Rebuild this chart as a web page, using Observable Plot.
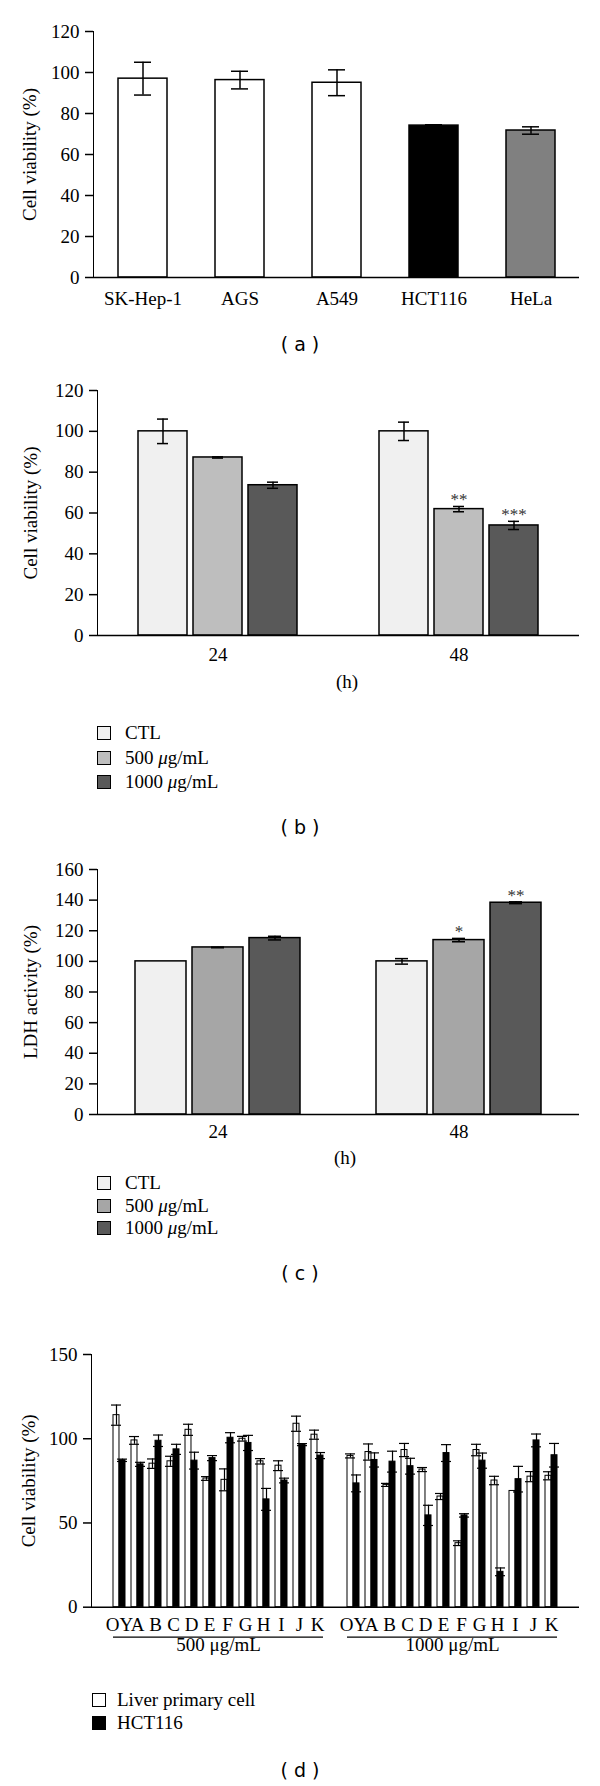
<!DOCTYPE html>
<html><head><meta charset="utf-8">
<script src="https://cdn.jsdelivr.net/npm/d3@7"></script>
<script src="https://cdn.jsdelivr.net/npm/@observablehq/plot@0.6"></script>
<style>
body{margin:0;background:#fff;}
#page{position:relative;width:600px;height:1786px;overflow:hidden;background:#fff;font-family:"Liberation Serif","Times New Roman",serif;}
.cap{position:absolute;left:0;width:600px;text-align:center;font-family:"DejaVu Sans",sans-serif;font-size:19px;line-height:20px;height:20px;white-space:pre;}
.hl{position:absolute;font-size:19px;line-height:20px;height:20px;transform:translateX(-50%);}
.leg{position:absolute;font-size:19px;line-height:20px;height:20px;display:flex;align-items:center;white-space:nowrap;}
.sw{display:inline-block;width:12px;height:12px;border:1px solid #000;box-sizing:content-box;}
svg g[aria-label="y-axis tick"]{stroke-width:1.5;}
</style></head><body><div id="page"></div>
<script>
// ---------- data: panel (a) ----------
const cellLinesA = ["SK-Hep-1", "AGS", "A549", "HCT116", "HeLa"];
const viabilityA = [97, 96.3, 95, 74.1, 71.7];
const errorA = [8, 4.3, 6.3, 0.4, 1.8];

// ---------- data: panel (b) ----------
const timesB = ["24", "48"];
const dosesB = ["CTL", "500 μg/mL", "1000 μg/mL"];
const viabilityB = [[100, 87.2, 73.6], [100, 61.9, 53.9]];
const errorB = [[6, 0.3, 1.5], [4.5, 1.3, 2]];
const signifB = [["", "", ""], ["", "**", "***"]];

// ---------- data: panel (c) ----------
const timesC = ["24", "48"];
const dosesC = ["CTL", "500 μg/mL", "1000 μg/mL"];
const ldhC = [[100, 109.1, 115.2], [100, 113.9, 138.3]];
const errorC = [[0, 0.2, 1.2], [1.8, 1.1, 0.6]];
const signifC = [["", "", ""], ["", "*", "**"]];

// ---------- data: panel (d) ----------
const extractsD = ["OY", "A", "B", "C", "D", "E", "F", "G", "H", "I", "J", "K"];
const dosesD = ["500 μg/mL", "1000 μg/mL"];
const cellTypesD = ["Liver primary cell", "HCT116"];
const liverD = [
  [114, 99, 85.2, 86.6, 105.3, 76.4, 75.6, 100, 86.6, 84, 108.9, 102.4],
  [89.8, 92.1, 72.6, 93.3, 81.7, 65.7, 38, 93.3, 75.2, 69, 77.5, 78]
];
const liverErrD = [
  [6, 2.3, 2.8, 3, 3.3, 1.1, 6.5, 1.4, 1.6, 2.9, 4.5, 2.7],
  [1.2, 4.8, 0.9, 3.9, 1.2, 1.8, 1.4, 3.4, 2.5, 0, 3, 2.4]
];
const hctD = [
  [87.2, 84.8, 98.8, 93.7, 87, 88.5, 100.6, 97.5, 64, 75.2, 96.5, 90],
  [73.5, 87.4, 86.4, 83.7, 54.5, 91.5, 54.5, 87, 21, 76, 99, 90.2]
];
const hctErrD = [
  [0.7, 1.2, 3.4, 3, 5, 1.5, 3, 4.5, 6.5, 1.4, 0.6, 1.8],
  [5, 4.2, 6.2, 4.7, 6, 5, 1, 4.5, 2.3, 7.6, 3.8, 7]
];

// ---------- helpers ----------
const page = document.getElementById("page");
function place(el, top, left) {
  el.style.position = "absolute";
  el.style.top = top + "px";
  if (left !== undefined) el.style.left = left + "px";
  page.appendChild(el);
  return el;
}
function div(cls, html) { const d = document.createElement("div"); d.className = cls; d.innerHTML = html; return d; }
const serif = '"Liberation Serif", "Times New Roman", serif';
const baseStyle = {fontFamily: serif, fontSize: "19px", color: "black", background: "white", overflow: "visible"};
const italicMu = s => s.replace("μ", "<i>μ</i>");
function legend(labels, colors, centers, left, textLeft) {
  labels.forEach((lab, i) => {
    const row = div("leg", `<span class="sw" style="background:${colors[i]}"></span><span style="margin-left:${textLeft - left - 14}px">${italicMu(lab)}</span>`);
    place(row, centers[i] - 10, left);
  });
}
function yAxis(label, ticks, domain, offset) {
  return {domain, ticks, tickSize: 8, tickPadding: 6, label, labelAnchor: "center", labelOffset: offset, labelArrow: "none", line: true};
}
function errorMarks(data, opts, capInset, sw) {
  const d = data.filter(r => r.e > 0);
  return [
    Plot.ruleX(d, {...opts, y1: r => r.v - r.e, y2: r => r.v + r.e, strokeWidth: sw}),
    Plot.tickY(d, {...opts, y: r => r.v + r.e, insetLeft: capInset, insetRight: capInset, strokeWidth: sw}),
    Plot.tickY(d, {...opts, y: r => r.v - r.e, insetLeft: capInset, insetRight: capInset, strokeWidth: sw})
  ];
}

// ---------- panel (a) ----------
const dataA = cellLinesA.map((cell, i) => ({cell, v: viabilityA[i], e: errorA[i]}));
const chartA = Plot.plot({
  width: 600, height: 320, marginTop: 31, marginBottom: 43, marginLeft: 93, marginRight: 21,
  style: baseStyle,
  x: {domain: cellLinesA, paddingInner: 0.5, paddingOuter: 0.25, label: null, tickSize: 0, tickPadding: 14},
  y: yAxis("Cell viability (%)", d3.range(0, 121, 20), [0, 120], 71),
  color: {domain: cellLinesA, range: ["#ffffff", "#ffffff", "#ffffff", "#000000", "#808080"]},
  marks: [
    Plot.barY(dataA, {x: "cell", y: "v", fill: "cell", stroke: "black", strokeWidth: 1.5}),
    ...errorMarks(dataA, {x: "cell"}, 16, 1.5),
    Plot.ruleY([0], {strokeWidth: 1.5})
  ]
});
place(chartA, 0, 0);
place(div("cap", "( a )"), 334);

// ---------- panel (b) / (c) builder ----------
function groupedPanel(times, doses, vals, errs, sigs, colors, yLabel, yDomain, yTicks, dims) {
  const data = times.flatMap((t, i) => doses.map((d, j) => ({time: t, dose: d, v: vals[i][j], e: errs[i][j], sig: sigs[i][j]})));
  return Plot.plot({
    width: 600, height: dims.height, marginTop: dims.mt, marginBottom: dims.mb, marginLeft: dims.ml, marginRight: 21,
    style: baseStyle,
    fx: {domain: times, padding: 0, label: null, tickSize: 0, tickPadding: dims.tp},
    x: {domain: doses, paddingInner: dims.pi, paddingOuter: dims.po, axis: null},
    y: yAxis(yLabel, yTicks, yDomain, dims.ml - 22),
    color: {domain: doses, range: colors},
    marks: [
      Plot.barY(data, {fx: "time", x: "dose", y: "v", fill: "dose", stroke: "black", strokeWidth: 1.5}),
      ...errorMarks(data, {fx: "time", x: "dose"}, dims.cap, 1.5),
      Plot.text(data.filter(r => r.sig), {fx: "time", x: "dose", y: r => r.v + r.e, text: "sig", lineAnchor: "bottom", dy: -1, fontSize: 17, fill: "#333"}),
      Plot.ruleY([0], {strokeWidth: 1.5})
    ]
  });
}
const colorsBC = ["#f0f0f0", "#bebebe", "#595959"];

const chartB = groupedPanel(timesB, dosesB, viabilityB, errorB, signifB, colorsBC,
  "Cell viability (%)", [0, 120], d3.range(0, 121, 20),
  {height: 310, mt: 30, mb: 35, ml: 96, tp: 12, pi: 0.118, po: 0.738, cap: 19});
place(chartB, 360, 0);
place(div("hl", "(h)"), 672, 347);
legend(dosesB, colorsBC, [733, 758, 782], 97, 125);
place(div("cap", "( b )"), 817);

const colorsC = ["#f0f0f0", "#a6a6a6", "#595959"];
const chartC = groupedPanel(timesC, dosesC, ldhC, errorC, signifC, colorsC,
  "LDH activity (%)", [0, 160], d3.range(0, 161, 20),
  {height: 309, mt: 29, mb: 35, ml: 96, tp: 10, pi: 0.114, po: 0.66, cap: 19});
place(chartC, 840, 0);
place(div("hl", "(h)"), 1148, 345);
legend(dosesC, colorsC, [1183, 1206, 1228], 97, 125);
place(div("cap", "( c )"), 1263);

// ---------- panel (d) ----------
const keyD = (dose, cat) => dose + "|" + cat;
const spacerD = "|";
const domainD = [...extractsD.map(c => keyD(dosesD[0], c)), spacerD, ...extractsD.map(c => keyD(dosesD[1], c))];
const dataD = dosesD.flatMap((dose, i) => extractsD.map((cat, j) => ({
  key: keyD(dose, cat), liver: liverD[i][j], le: liverErrD[i][j], hct: hctD[i][j], he: hctErrD[i][j]
})));
const mlD = 91, mrD = 21, piD = 1 / 3, poD = 1.18;
const bandD = d3.scaleBand(domainD, [mlD, 600 - mrD]).paddingInner(piD).paddingOuter(poD);
const bwD = bandD.bandwidth(), stepD = bandD.step();
const groupsD = dosesD.map(d => ({
  label: d, first: keyD(d, extractsD[0]), last: keyD(d, extractsD[extractsD.length - 1]),
  mid: keyD(d, extractsD[extractsD.length / 2 - 1])
}));
const liverRows = dataD.map(r => ({key: r.key, v: r.liver, e: r.le}));
const hctRows = dataD.map(r => ({key: r.key, v: r.hct, e: r.he}));
const chartD = Plot.plot({
  width: 600, height: 340, marginTop: 24, marginBottom: 63.3, marginLeft: mlD, marginRight: mrD,
  style: baseStyle,
  x: {domain: domainD, paddingInner: piD, paddingOuter: poD, label: null, tickSize: 0, tickPadding: 10.5,
      tickFormat: k => k.split("|")[1] || ""},
  y: yAxis("Cell viability (%)", [0, 50, 100, 150], [0, 150], 70),
  marks: [
    Plot.barY(liverRows, {x: "key", y: "v", fill: "white", stroke: "black", strokeWidth: 1, insetRight: bwD / 2}),
    Plot.barY(hctRows, {x: "key", y: "v", fill: "black", stroke: "black", strokeWidth: 1, insetLeft: bwD / 2}),
    ...errorMarks(liverRows, {x: "key", dx: -bwD / 4}, 1, 1.2),
    ...errorMarks(hctRows, {x: "key", dx: bwD / 4}, 1, 1.2),
    Plot.ruleY([0], {strokeWidth: 1.5}),
    Plot.ruleY(groupsD, {y: () => 0, x1: "first", x2: "last", dy: 30, strokeWidth: 1.2}),
    Plot.text(groupsD, {x: "mid", frameAnchor: "bottom", text: "label", dx: stepD / 2, dy: 44, fontSize: 19})
  ]
});
place(chartD, 1330, 0);
legend(cellTypesD, ["#ffffff", "#000000"], [1700, 1723], 92, 117);
place(div("cap", "( d )"), 1760);
</script>
</body></html>
